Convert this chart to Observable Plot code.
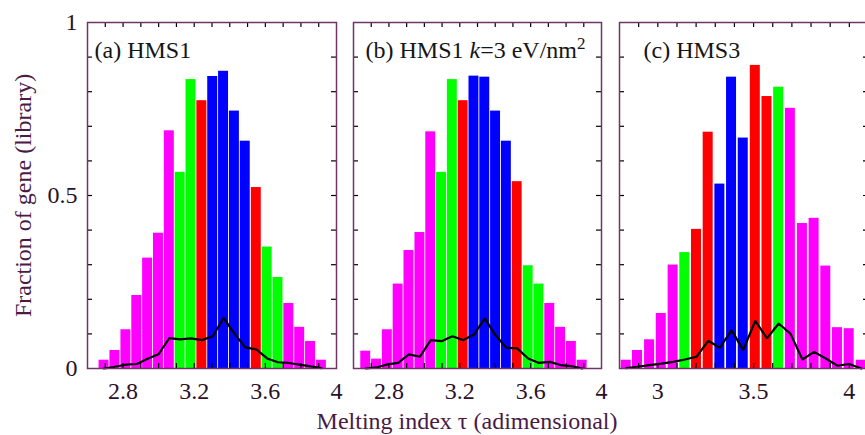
<!DOCTYPE html>
<html>
<head>
<meta charset="utf-8">
<script src="https://cdn.jsdelivr.net/npm/d3@7"></script>
<script src="https://cdn.jsdelivr.net/npm/@observablehq/plot@0.6"></script>
<style>
  html, body { margin: 0; padding: 0; background: #fff; }
  #wrap { position: relative; width: 865px; height: 435px; overflow: hidden; background: #fff; }
  .panel { position: absolute; top: 0; }
  .panel svg { overflow: visible; background: transparent; max-width: none !important; }
</style>
</head>
<body>
<div id="wrap"></div>
<script>
// ---------- data ----------
const titles = ["(a) HMS1", "(b) HMS1 k=3 eV/nm²", "(c) HMS3"];
const xLabel = "Melting index τ (adimensional)";
const yLabel = "Fraction of gene (library)";

const centersA = [2.693, 2.754, 2.816, 2.877, 2.938, 2.999, 3.060, 3.121, 3.182, 3.243, 3.304, 3.365, 3.426, 3.487, 3.549, 3.610, 3.671, 3.732, 3.793, 3.854, 3.915];
const catsA    = ["M","M","M","M","M","M","M","G","G","R","B","B","B","B","R","G","G","M","M","M","M"];
const valsA    = [0.024, 0.052, 0.112, 0.211, 0.319, 0.391, 0.687, 0.567, 0.835, 0.774, 0.844, 0.859, 0.744, 0.657, 0.523, 0.351, 0.263, 0.188, 0.119, 0.078, 0.024];
const lineA    = [0.000, 0.005, 0.011, 0.013, 0.028, 0.041, 0.088, 0.084, 0.087, 0.082, 0.093, 0.146, 0.101, 0.061, 0.055, 0.029, 0.018, 0.016, 0.011, 0.006, 0.001];

const centersB = [2.669, 2.730, 2.791, 2.852, 2.913, 2.975, 3.036, 3.097, 3.158, 3.219, 3.280, 3.341, 3.402, 3.463, 3.524, 3.586, 3.647, 3.708, 3.769, 3.830, 3.891];
const catsB    = ["M","M","M","M","M","M","M","G","G","R","B","B","B","B","R","G","G","M","M","M","M"];
const valsB    = [0.050, 0.027, 0.112, 0.244, 0.341, 0.393, 0.684, 0.567, 0.835, 0.774, 0.845, 0.842, 0.744, 0.657, 0.540, 0.297, 0.244, 0.188, 0.119, 0.078, 0.024];
const lineB    = [0.000, 0.003, 0.012, 0.016, 0.041, 0.034, 0.082, 0.079, 0.093, 0.082, 0.098, 0.145, 0.096, 0.060, 0.058, 0.029, 0.016, 0.019, 0.010, 0.007, 0.000];

const centersC = [2.835, 2.894, 2.957, 3.018, 3.080, 3.141, 3.202, 3.263, 3.324, 3.385, 3.446, 3.509, 3.570, 3.631, 3.692, 3.755, 3.816, 3.877, 3.938, 3.999, 4.062];
const catsC    = ["M","M","M","M","M","G","R","R","B","B","B","R","R","G","M","M","M","M","M","M","M"];
const valsC    = [0.024, 0.052, 0.083, 0.159, 0.299, 0.335, 0.402, 0.683, 0.533, 0.842, 0.666, 0.876, 0.786, 0.813, 0.752, 0.419, 0.434, 0.296, 0.118, 0.115, 0.024];
const lineC    = [0.001, 0.005, 0.010, 0.014, 0.019, 0.026, 0.034, 0.080, 0.060, 0.111, 0.053, 0.138, 0.087, 0.130, 0.101, 0.026, 0.048, 0.029, 0.008, 0.013, 0.000];

const binWidth = 0.0611;

const xMinorAB = [2.7, 2.8, 2.9, 3.0, 3.1, 3.2, 3.3, 3.4, 3.5, 3.6, 3.7, 3.8, 3.9];
const xMajorAB = [2.8, 3.2, 3.6, 4];
const xMinorC  = [2.9, 3.0, 3.1, 3.2, 3.3, 3.4, 3.5, 3.6, 3.7, 3.8, 3.9, 4.0];
const xMajorC  = [3, 3.5, 4];
const yMinor   = [0.1, 0.2, 0.3, 0.4, 0.5, 0.6, 0.7, 0.8, 0.9];
const yMajor   = [0, 0.5, 1];

const catNames  = ["M", "G", "R", "B"];
const catColors = ["#ff00ff", "#00ff00", "#ff0000", "#0000ff"];

// ---------- style ----------
const H = 435, MT = 22, MB = 67, FH = H - MT - MB;
const FONT = "'Liberation Serif', 'Times New Roman', serif";
const FRAME = "#6e3568";
const TICKTXT = "#2b1029";
const LBL = "#4a1a45";

function panel(o) {
  const bars = o.centers.map((c, i) => ({x1: c - binWidth / 2, x2: c + binWidth / 2, v: o.vals[i], cat: o.cats[i]}));
  const pts = o.centers.map((c, i) => ({x: c, v: o.line[i]}));
  const FW = o.width - o.ml - o.mr;
  const marks = [
    Plot.rect(bars, {x1: "x1", x2: "x2", y1: 0, y2: "v", fill: "cat", insetLeft: o.inset, insetRight: o.inset}),
    Plot.line(pts, {x: "x", y: "v", stroke: "black", strokeWidth: 2.2, strokeLinejoin: "miter"}),
    Plot.tickX(o.minor, {x: d => d, insetTop: FH - 5, stroke: "black", strokeWidth: 1.2}),
    Plot.tickX(o.minor, {x: d => d, insetBottom: FH - 5, stroke: "black", strokeWidth: 1.2}),
    Plot.tickY(yMinor, {y: d => d, insetRight: FW - 5, stroke: "black", strokeWidth: 1.2}),
    Plot.tickY(yMinor, {y: d => d, insetLeft: FW - 5, stroke: "black", strokeWidth: 1.2}),
    Plot.axisX(o.major, {tickSize: 0, tickPadding: 13, tickFormat: d => String(d), fontSize: 24, color: TICKTXT, label: null}),
    Plot.frame({stroke: FRAME, strokeWidth: 1.5}),
    Plot.text([o.title], {frameAnchor: "top-left", dx: o.tdx, dy: 35, lineAnchor: "bottom", textAnchor: "start", fontSize: 24, fill: "#151515"})
  ];
  if (o.yAxis) {
    marks.push(Plot.axisY(yMajor, {tickSize: 0, tickPadding: 10, tickFormat: d => String(d), fontSize: 24, color: TICKTXT, label: null}));
    marks.push(Plot.text([yLabel], {frameAnchor: "left", dx: -64, rotate: -90, textAnchor: "middle", lineAnchor: "middle", fontSize: 24, fill: LBL}));
  }
  if (o.xLabel) {
    marks.push(Plot.text([xLabel], {frameAnchor: "bottom", dy: 60, dx: -10.5, lineAnchor: "bottom", textAnchor: "middle", fontSize: 24, fill: LBL}));
  }
  const svg = Plot.plot({
    width: o.width, height: H,
    marginTop: MT, marginBottom: MB, marginLeft: o.ml, marginRight: o.mr,
    style: {fontFamily: FONT, fontSize: "24px", background: "transparent", overflow: "visible", maxWidth: "none"},
    x: {domain: o.domain, label: null},
    y: {domain: [0, 1], label: null, axis: o.yAxis ? undefined : null},
    color: {domain: catNames, range: catColors},
    marks
  });
  const div = document.createElement("div");
  div.className = "panel";
  div.style.left = o.left + "px";
  div.style.width = o.width + "px";
  div.appendChild(svg);
  document.getElementById("wrap").appendChild(div);
  return svg;
}

panel({centers: centersA, vals: valsA, cats: catsA, line: lineA, domain: [2.6, 4.0], minor: xMinorAB, major: xMajorAB,
       left: 0, width: 341, ml: 87, mr: 5, inset: 0.45, title: titles[0], tdx: 7, yAxis: true});
const svgB = panel({centers: centersB, vals: valsB, cats: catsB, line: lineB, domain: [2.6, 4.0], minor: xMinorAB, major: xMajorAB,
       left: 340, width: 266, ml: 13, mr: 5, inset: 0.45, title: titles[1], tdx: 12, xLabel: true});
panel({centers: centersC, vals: valsC, cats: catsC, line: lineC, domain: [2.8, 4.1], minor: xMinorC, major: xMajorC,
       left: 606, width: 267, ml: 13, mr: 5, inset: 0.85, title: titles[2], tdx: 24});

// rich text for panel (b) title: italic k, superscript 2
const tEl = [...svgB.querySelectorAll("text")].find(e => e.textContent === titles[1]);
if (tEl) {
  const ns = "http://www.w3.org/2000/svg";
  const parts = [["(b) HMS1 ", {}], ["k", {"font-style": "italic"}], ["=3 eV/nm", {}], ["2", {"font-size": "17", "dy": "-9"}]];
  tEl.textContent = "";
  for (const [txt, attrs] of parts) {
    const ts = document.createElementNS(ns, "tspan");
    for (const k in attrs) ts.setAttribute(k, attrs[k]);
    ts.textContent = txt;
    tEl.appendChild(ts);
  }
}
</script>
</body>
</html>
